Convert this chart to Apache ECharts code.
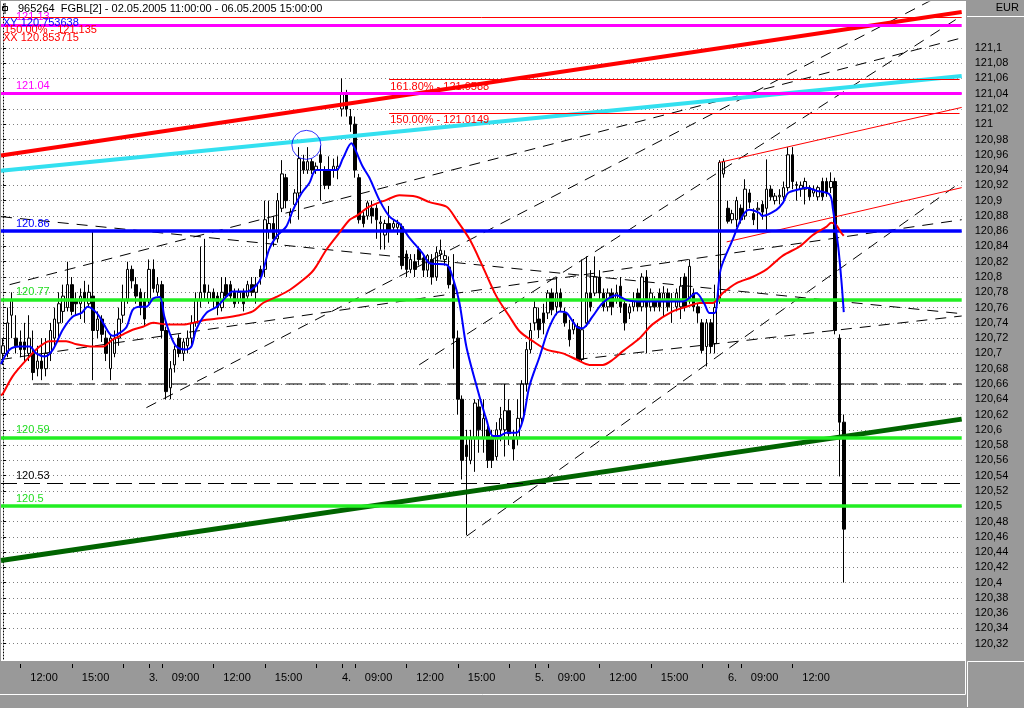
<!DOCTYPE html>
<html><head><meta charset="utf-8">
<script src="https://cdn.jsdelivr.net/npm/echarts@6.0.0/dist/echarts.min.js"></script>
<style>html,body{margin:0;padding:0;background:#999;}#c{width:1024px;height:708px;}</style>
</head><body><div id="c"></div>
<script>
// ---------- categories (15-minute bars) ----------
const sessions = [['02.05','11:00','19:00'],['03.05','08:00','19:00'],['04.05','08:00','19:00'],['05.05','08:00','19:00'],['06.05','08:00','21:45']];
// ---------- tick labels ----------
const tickMarks = [
 ['02.05 12:00','12:00'],['02.05 15:00','15:00'],['02.05 18:00',''],
 ['03.05 08:15','3.'],['03.05 09:00','09:00'],['03.05 12:00','12:00'],['03.05 15:00','15:00'],['03.05 18:00',''],
 ['04.05 08:15','4.'],['04.05 09:00','09:00'],['04.05 12:00','12:00'],['04.05 15:00','15:00'],['04.05 18:00',''],
 ['05.05 08:15','5.'],['05.05 09:00','09:00'],['05.05 12:00','12:00'],['05.05 15:00','15:00'],['05.05 18:00',''],
 ['06.05 08:15','6.'],['06.05 09:00','09:00'],['06.05 12:00','12:00']
];
const yTickValues = [121.1,121.08,121.06,121.04,121.02,121,120.98,120.96,120.94,120.92,120.9,120.88,120.86,120.84,120.82,120.8,120.78,120.76,120.74,120.72,120.7,120.68,120.66,120.64,120.62,120.6,120.58,120.56,120.54,120.52,120.5,120.48,120.46,120.44,120.42,120.4,120.38,120.36,120.34,120.32];

// ---------- OHLC [open, close, low, high] ----------
const day2 = [
[120.70,120.71,120.685,120.72],[120.70,120.74,120.695,120.76],[120.75,120.77,120.72,120.78],[120.72,120.71,120.70,120.75],
[120.715,120.705,120.695,120.73],[120.715,120.705,120.69,120.74],[120.70,120.72,120.69,120.75],[120.70,120.675,120.665,120.73],
[120.68,120.69,120.67,120.71],[120.69,120.68,120.665,120.72],[120.68,120.70,120.67,120.72],[120.70,120.73,120.69,120.74],
[120.72,120.745,120.71,120.76],[120.74,120.765,120.72,120.78],[120.755,120.775,120.74,120.79],[120.76,120.79,120.755,120.82],
[120.79,120.755,120.75,120.80],[120.77,120.765,120.75,120.78],[120.765,120.775,120.745,120.785],[120.78,120.77,120.74,120.795],
[120.765,120.78,120.76,120.79],[120.775,120.73,120.665,120.86],[120.73,120.745,120.72,120.755],[120.745,120.725,120.715,120.75],
[120.72,120.70,120.69,120.73],[120.68,120.72,120.665,120.725],[120.70,120.72,120.695,120.73],[120.72,120.745,120.71,120.76],
[120.75,120.77,120.74,120.79],[120.77,120.81,120.765,120.82],[120.81,120.795,120.785,120.815],[120.79,120.775,120.765,120.80],
[120.78,120.76,120.75,120.785]];
const day3 = [
[120.77,120.745,120.735,120.78],[120.77,120.81,120.765,120.823],[120.81,120.785,120.78,120.823],[120.78,120.79,120.775,120.80],
[120.79,120.73,120.72,120.795],[120.73,120.65,120.64,120.735],[120.655,120.68,120.64,120.69],[120.685,120.705,120.675,120.71],
[120.72,120.70,120.695,120.725],[120.70,120.715,120.69,120.72],[120.71,120.72,120.70,120.73],[120.72,120.74,120.71,120.75],
[120.74,120.77,120.735,120.78],[120.77,120.78,120.76,120.84],[120.79,120.78,120.77,120.85],[120.77,120.78,120.765,120.79],
[120.78,120.77,120.76,120.785],[120.775,120.76,120.75,120.78],[120.76,120.78,120.755,120.80],[120.79,120.775,120.77,120.80],
[120.79,120.775,120.77,120.795],[120.78,120.765,120.76,120.785],[120.77,120.78,120.765,120.785],[120.78,120.765,120.755,120.785],
[120.775,120.79,120.77,120.795],[120.79,120.78,120.775,120.80],[120.78,120.79,120.765,120.80],[120.81,120.80,120.79,120.815],
[120.81,120.875,120.80,120.90],[120.86,120.87,120.85,120.90],[120.87,120.85,120.84,120.88],[120.85,120.90,120.845,120.91],
[120.89,120.935,120.885,120.953],[120.93,120.90,120.89,120.935],[120.88,120.885,120.87,120.89],[120.895,120.91,120.89,120.915],
[120.91,120.955,120.875,120.97],[120.951,120.94,120.935,120.96],[120.94,120.951,120.935,120.97],[120.951,120.94,120.935,120.955],
[120.94,120.945,120.935,120.95],[120.96,120.95,120.90,120.972],[120.94,120.92,120.915,120.945],[120.94,120.92,120.915,120.958],
[120.94,120.945,120.93,120.955]];
const day4 = [
[120.94,120.945,120.928,120.958],[121.02,121.04,121.01,121.06],[121.04,121.02,121.01,121.045],[121.01,121.00,120.99,121.02],
[121.00,120.94,120.93,121.01],[120.93,120.875,120.87,120.935],[120.88,120.87,120.865,120.885],[120.88,120.897,120.875,120.90],
[120.89,120.88,120.87,120.90],[120.89,120.875,120.85,120.895],[120.87,120.872,120.836,120.88],[120.855,120.87,120.836,120.875],
[120.87,120.86,120.845,120.893],[120.865,120.87,120.86,120.875],[120.865,120.87,120.855,120.875],[120.866,120.815,120.81,120.87],
[120.83,120.81,120.80,120.835],[120.81,120.823,120.805,120.83],[120.82,120.81,120.80,120.83],[120.836,120.823,120.815,120.84],
[120.825,120.809,120.80,120.83],[120.809,120.828,120.80,120.83],[120.823,120.80,120.79,120.83],[120.80,120.832,120.795,120.84],
[120.83,120.835,120.823,120.849],[120.823,120.828,120.815,120.835],[120.813,120.79,120.785,120.827],[120.79,120.72,120.68,120.83],
[120.72,120.64,120.62,120.73],[120.64,120.56,120.535,120.645],[120.58,120.565,120.462,120.60],[120.56,120.59,120.555,120.60],
[120.59,120.635,120.545,120.64],[120.63,120.60,120.57,120.64],[120.59,120.615,120.57,120.64],[120.60,120.56,120.55,120.605],
[120.59,120.56,120.55,120.60],[120.565,120.60,120.56,120.61],[120.60,120.615,120.585,120.63],[120.60,120.625,120.565,120.66],
[120.625,120.595,120.58,120.64],[120.59,120.575,120.56,120.60],[120.59,120.615,120.58,120.64],[120.615,120.66,120.605,120.665],
[120.66,120.705,120.65,120.715]];
const day5 = [
[120.705,120.73,120.70,120.74],[120.74,120.76,120.73,120.77],[120.745,120.731,120.72,120.76],[120.753,120.74,120.725,120.765],
[120.753,120.779,120.745,120.783],[120.779,120.757,120.75,120.785],[120.761,120.779,120.75,120.80],[120.779,120.761,120.755,120.785],
[120.753,120.74,120.735,120.76],[120.731,120.718,120.709,120.744],[120.731,120.74,120.725,120.745],[120.735,120.692,120.69,120.74],
[120.692,120.731,120.69,120.823],[120.74,120.779,120.735,120.827],[120.779,120.761,120.755,120.809],[120.779,120.80,120.775,120.827],
[120.80,120.779,120.77,120.809],[120.779,120.761,120.755,120.785],[120.761,120.779,120.755,120.785],[120.779,120.761,120.75,120.785],
[120.77,120.779,120.765,120.79],[120.788,120.761,120.753,120.80],[120.765,120.74,120.73,120.77],[120.753,120.761,120.745,120.765],
[120.761,120.77,120.755,120.78],[120.779,120.761,120.755,120.785],[120.761,120.80,120.755,120.805],[120.80,120.761,120.70,120.809],
[120.761,120.779,120.755,120.785],[120.77,120.761,120.755,120.775],[120.779,120.761,120.755,120.785],[120.77,120.779,120.749,120.788],
[120.779,120.761,120.755,120.785],[120.77,120.771,120.74,120.779],[120.761,120.779,120.755,120.785],[120.761,120.788,120.745,120.80],
[120.80,120.761,120.755,120.805],[120.77,120.814,120.765,120.823],[120.779,120.761,120.755,120.785],[120.761,120.753,120.74,120.765],
[120.74,120.704,120.70,120.745],[120.709,120.74,120.683,120.745],[120.74,120.709,120.70,120.745],[120.713,120.76,120.70,120.79],
[120.77,120.95,120.765,120.953]];
const day6 = [
[120.935,120.951,120.93,120.955],[120.89,120.873,120.87,120.90],[120.875,120.883,120.87,120.888],[120.875,120.90,120.865,120.905],
[120.89,120.875,120.87,120.895],[120.88,120.915,120.875,120.928],[120.91,120.898,120.89,120.915],[120.883,120.875,120.868,120.89],
[120.888,120.89,120.86,120.898],[120.895,120.885,120.875,120.90],[120.89,120.915,120.86,120.954],[120.915,120.905,120.90,120.92],
[120.90,120.906,120.895,120.91],[120.905,120.907,120.895,120.915],[120.905,120.917,120.90,120.925],[120.917,120.96,120.912,120.97],
[120.96,120.925,120.915,120.97],[120.92,120.921,120.90,120.925],[120.915,120.92,120.905,120.925],[120.915,120.925,120.895,120.93],
[120.917,120.905,120.90,120.92],[120.91,120.915,120.905,120.92],[120.905,120.917,120.90,120.92],[120.925,120.905,120.90,120.93],
[120.925,120.91,120.905,120.93],[120.917,120.925,120.91,120.937],[120.925,120.73,120.725,120.93],[120.72,120.61,120.539,120.725],
[120.61,120.47,120.40,120.62]];

// ---------- moving averages [barIndex, price] ----------
const blueMA = [[-0.5,120.686],[0,120.692],[1.5,120.705],[3.8,120.709],[6.2,120.709],[7.7,120.70],[9.7,120.696],[11.6,120.705],[13.9,120.731],[16.2,120.748],[18.3,120.753],[19.7,120.761],[21.8,120.753],[23.3,120.74],[25.5,120.723],[27.2,120.727],[28.8,120.735],[30.2,120.757],[31.8,120.761],[33.4,120.761],[35,120.772],[36.5,120.774],[37.6,120.748],[38.8,120.727],[40.4,120.709],[42.7,120.705],[43.9,120.709],[45,120.731],[47.4,120.753],[49.8,120.761],[52,120.774],[53.5,120.781],[56.8,120.781],[59,120.789],[60.2,120.80],[62,120.836],[63.7,120.853],[66,120.866],[67.6,120.888],[69.6,120.91],[71.4,120.923],[73,120.94],[77.7,120.94],[79.2,120.955],[81.2,120.975],[82,120.968],[83.8,120.945],[85.4,120.930],[87.8,120.90],[90.1,120.879],[92.4,120.87],[94.5,120.853],[97.8,120.831],[99.4,120.818],[103.4,120.816],[104.8,120.80],[106.4,120.766],[108,120.709],[110.4,120.657],[112.7,120.613],[114.2,120.592],[115.7,120.592],[117.3,120.596],[119.7,120.596],[121.2,120.613],[122.7,120.657],[125.1,120.696],[127.4,120.735],[129.7,120.755],[131.4,120.753],[133.7,120.735],[135.1,120.733],[137.4,120.748],[139.8,120.766],[143,120.776],[145.3,120.77],[149.1,120.768],[153.8,120.768],[158.5,120.768],[161.6,120.779],[163.5,120.765],[164.7,120.753],[165.9,120.753],[167.3,120.81],[170.1,120.849],[172.4,120.88],[174,120.888],[176.3,120.884],[177,120.88],[180.3,120.888],[181.8,120.897],[183,120.91],[185.7,120.915],[187.3,120.917],[189.6,120.913],[192.7,120.908],[193.5,120.888],[194.7,120.84],[195.5,120.792],[196,120.754]];
const redMA = [[-0.5,120.645],[0,120.648],[2.2,120.67],[5.5,120.692],[8.5,120.709],[10.8,120.716],[14.7,120.716],[17.1,120.712],[21,120.709],[23.3,120.709],[25.5,120.718],[28,120.725],[30.2,120.731],[32.6,120.735],[35,120.74],[38.1,120.738],[42,120.738],[44.3,120.74],[47.4,120.744],[50.5,120.746],[55.1,120.75],[58.2,120.755],[60.6,120.766],[63.7,120.774],[66.8,120.783],[69.9,120.796],[71.9,120.806],[73,120.814],[75.4,120.836],[78.4,120.858],[80.8,120.875],[82.4,120.88],[85.4,120.892],[89.4,120.901],[92.4,120.907],[96.4,120.905],[99.4,120.898],[103.4,120.892],[105.7,120.875],[108.8,120.849],[111.8,120.814],[115,120.775],[118.1,120.748],[120.4,120.729],[123.5,120.716],[126.7,120.705],[130.5,120.70],[133.7,120.692],[136.7,120.685],[139.8,120.685],[142.2,120.692],[144.5,120.703],[148.4,120.72],[151.4,120.738],[156.1,120.755],[159.3,120.761],[162.4,120.766],[165.4,120.766],[167.8,120.779],[171,120.792],[174.7,120.80],[178,120.81],[181.8,120.828],[185.7,120.84],[188.8,120.855],[192,120.866],[193.1,120.871],[194.2,120.868],[195.4,120.858],[196,120.854]];

// ---------- drawn levels and trend lines ----------
const levelValues = [121.13, 121.04, 120.86, 120.77, 120.59, 120.5, 120.53, 121.135];
const levelLabels = ['121.13','121.04','120.86','120.77','120.59','120.5','120.53','150.00% - 121.135'];
const fibValues = [121.0588, 121.0149];
const fibLabels = ['161.80% - 121.0588','150.00% - 121.0149'];
const fibStartBar = 90;
const trendRed = [[-0.5,120.959],[223.5,121.147]];
const trendCyan = [[-0.5,120.939],[223.5,121.063]];
const trendGreen = [[-0.5,120.429],[223.5,120.614]];
const thinRed1 = [[167,120.950],[223.5,121.022]];
const thinRed2 = [[168.7,120.846],[223.5,120.917]];
const dashTrends = [
 [[1.5,120.790],[223.5,121.113]],
 [[-0.5,120.692],[223.5,120.875]],
 [[-0.5,120.879],[223.5,120.752]],
 [[133.7,120.692],[223.5,120.749]],
 [[33.4,120.629],[223.5,121.183]],
 [[108.1,120.461],[223.5,120.925]],
 [[97,120.685],[223.5,121.142]]
];
const dashLevel = [[7,120.66],[223.5,120.66]];
const circleMark = [[70.7,120.973]];

// ---------- build ----------
const categories = [];
sessions.forEach(([d,a,b]) => {
  const [ah,am] = a.split(':').map(Number), [bh,bm] = b.split(':').map(Number);
  for (let t = ah*60+am; t <= bh*60+bm; t += 15) {
    categories.push(d+' '+String(Math.floor(t/60)).padStart(2,'0')+':'+String(t%60).padStart(2,'0'));
  }
});
const candles = day2.concat(day3, day4, day5, day6);
const N = categories.length;
const tickMap = Object.fromEntries(tickMarks);
const FONT = '"Liberation Sans", Arial, sans-serif';

const levelColors = ['#ff00ff','#ff00ff','#0000ff','#22ee22','#22ee22','#22ee22','#000000','#ff0000'];
const levelWidths = [3,3,3.5,3.5,3.5,3.5,1,1];
const levelTextColors = ['#ff00ff','#ff00ff','#0000ff','#22dd22','#22dd22','#22dd22','#000000','#ff0000'];

const markData = levelValues.map((v,k) => ({
  yAxis: v,
  lineStyle: {color: levelColors[k], width: levelWidths[k], type: k===6 ? [16,7] : 'solid'},
  label: {show: true, position: k===7 ? 'insideStartBottom' : 'insideStartTop', formatter: levelLabels[k],
          color: levelTextColors[k], fontSize: 11, fontFamily: FONT, distance: k===7 ? [3,7] : [15,2]}
}));
fibValues.forEach((v,k) => {
  markData.push([
    {coord: [categories[fibStartBar], v], lineStyle: {color:'#ff0000', width:1, type:'solid'},
     label: {show:true, position:'insideStartBottom', formatter: fibLabels[k], color:'#ff0000', fontSize:11, fontFamily: FONT, distance:[1,2]}},
    {coord: [categories[N-1], v]}
  ]);
});

function lineSeries(data, color, width, type, z) {
  return {type:'line', xAxisIndex:1, yAxisIndex:0, data, symbol:'none', silent:true, clip:true,
          lineStyle:{color, width, type: type||'solid'}, z: z||3, animation:false};
}

const series = [
  {type:'candlestick', xAxisIndex:0, yAxisIndex:0, data: candles, barWidth: 3, z: 2,
   itemStyle:{color:'#ffffff', color0:'#000000', borderColor:'#000000', borderColor0:'#000000', borderWidth:1},
   markLine:{silent:true, symbol:['none','none'], animation:false, data: markData}}
];
dashTrends.forEach(d => series.push(lineSeries(d, '#000000', 1, [11,8], 3)));
series.push(lineSeries(dashLevel, '#000000', 1, [16,7], 3));
series.push(lineSeries(thinRed1, '#ff0000', 1, 'solid', 3));
series.push(lineSeries(thinRed2, '#ff0000', 1, 'solid', 3));
series.push(lineSeries(trendRed, '#ff0000', 4, 'solid', 4));
series.push(lineSeries(trendCyan, '#33e0f0', 4, 'solid', 4));
series.push(lineSeries(trendGreen, '#006400', 5, 'solid', 4));
series.push(Object.assign(lineSeries(redMA, '#ff0000', 2, 'solid', 5), {smooth:0.3}));
series.push(Object.assign(lineSeries(blueMA, '#0000ff', 2, 'solid', 6), {smooth:0.3}));
series.push({type:'scatter', xAxisIndex:1, yAxisIndex:0, data: circleMark, symbol:'circle', symbolSize: 29, silent:true, z:6,
  itemStyle:{color:'rgba(0,0,0,0)', borderColor:'#0000ff', borderWidth:1}});

const chart = echarts.init(document.getElementById('c'));
chart.setOption({
  backgroundColor:'#999999',
  animation:false,
  textStyle:{fontFamily: FONT},
  grid:{left:1, top:2, width:960.7, height:657, show:false},
  xAxis:[
    {type:'category', data: categories, boundaryGap:true, position:'bottom', offset:5, z:10,
     axisLine:{show:false},
     axisTick:{show:true, alignWithLabel:true, length:4, lineStyle:{color:'#000'}, interval:(i,v)=> (v in tickMap)},
     axisLabel:{show:true, interval:(i,v)=> (v in tickMap) && tickMap[v] !== '', margin:8, align:'left', color:'#000', fontSize:11,
       formatter: v => { const t = tickMap[v] || ''; return t.endsWith('.') ? '{d|'+t+'}' : '{t|'+t+'}'; },
       rich:{d:{color:'#000', fontSize:11, padding:[0,0,0,0]}, t:{color:'#000', fontSize:11, padding:[0,0,0,10]}}},
     splitLine:{show:false}},
    {type:'value', min:-0.5, max:N-0.5, show:false}
  ],
  yAxis:{type:'value', position:'right', offset:7, min:120.30, max:121.16, interval:0.02,
    axisLine:{show:true, lineStyle:{color:'#000', type:[1,2]}},
    axisTick:{show:true, length:3, lineStyle:{color:'#000'}, customValues: yTickValues},
    axisLabel:{margin:6, color:'#000', fontSize:11, customValues: yTickValues,
      formatter: v => (v > 121.11 || v < 120.31) ? '' : String(+Number(v).toFixed(2)).replace('.', ',')},
    splitLine:{show:true, lineStyle:{color:'#808080', type:[1,3]}}},
  series,
  graphic:[
    {type:'rect', z:-10, silent:true, shape:{x:1, y:1, width:965, height:660}, style:{fill:'#ffffff'}},
    {type:'rect', z:50, silent:true, shape:{x:966, y:0, width:58, height:16}, style:{fill:'#999999'}},
    {type:'text', z:51, silent:true, style:{text:'EUR', x:1019, y:8, align:'right', verticalAlign:'middle', fill:'#000', fontSize:11, fontFamily:FONT}},
    {type:'line', z:51, silent:true, shape:{x1:967, y1:16.5, x2:1024, y2:16.5}, style:{stroke:'#ffffff', lineWidth:1}},
    {type:'line', z:51, silent:true, shape:{x1:0, y1:694.5, x2:965.5, y2:694.5}, style:{stroke:'#ffffff', lineWidth:1}},
    {type:'line', z:51, silent:true, shape:{x1:965.5, y1:661, x2:965.5, y2:694.5}, style:{stroke:'#ffffff', lineWidth:1}},
    {type:'line', z:51, silent:true, shape:{x1:967.5, y1:661.5, x2:1024, y2:661.5}, style:{stroke:'#ffffff', lineWidth:1}},
    {type:'line', z:51, silent:true, shape:{x1:967.5, y1:661.5, x2:967.5, y2:707}, style:{stroke:'#ffffff', lineWidth:1}},
    {type:'rect', z:51, silent:true, shape:{x:2.5, y:6.5, width:5, height:4}, style:{fill:'none', stroke:'#000', lineWidth:1}},
    {type:'line', z:51, silent:true, shape:{x1:5, y1:3, x2:5, y2:14}, style:{stroke:'#000', lineWidth:1}},
    {type:'text', z:51, silent:true, style:{text:'965264  FGBL[2] - 02.05.2005 11:00:00 - 06.05.2005 15:00:00', x:18, y:9, verticalAlign:'middle', fill:'#000', fontSize:11, fontFamily:FONT}},
    {type:'text', z:51, silent:true, style:{text:'XY 120.753638', x:3, y:22.5, verticalAlign:'middle', fill:'#0000ff', fontSize:11, fontFamily:FONT}},
    {type:'text', z:51, silent:true, style:{text:'XX 120.853715', x:3, y:37.5, verticalAlign:'middle', fill:'#ff0000', fontSize:11, fontFamily:FONT}}
  ]
});
</script>
</body></html>
